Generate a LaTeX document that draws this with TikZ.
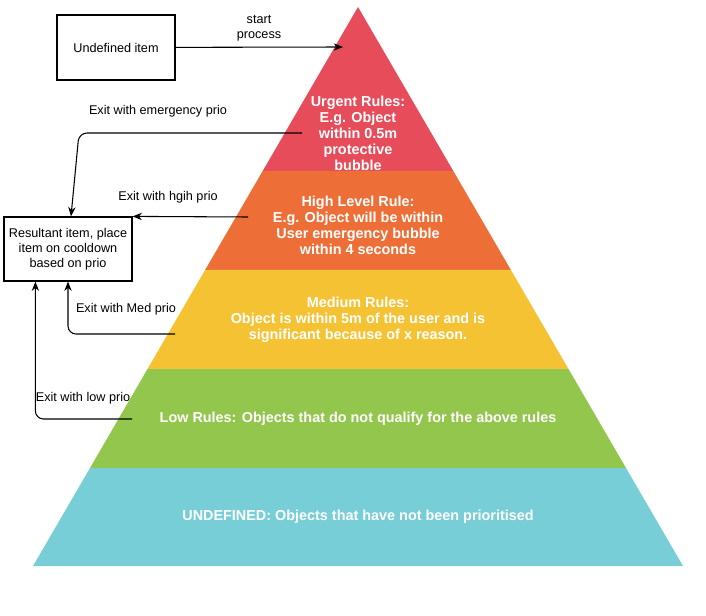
\documentclass[tikz,border=0pt]{standalone}
\usepackage{fontspec}
\setmainfont{Liberation Sans}
\usetikzlibrary{positioning,arrows.meta}
\definecolor{urgentred}{RGB}{230,76,90}
\definecolor{highorange}{RGB}{237,111,55}
\definecolor{medyellow}{RGB}{244,194,51}
\definecolor{lowgreen}{RGB}{146,198,76}
\definecolor{undefcyan}{RGB}{120,206,215}
\begin{document}
\begin{tikzpicture}[x=0.75pt,y=-0.75pt,
    layertext/.style={text=white, font=\bfseries\fontsize{10.8}{12}\selectfont, align=center},
    itembox/.style={draw, line width=0.9pt, align=center, font=\fontsize{9.5}{11.2}\selectfont},
    lbl/.style={align=center, font=\fontsize{9.5}{11.2}\selectfont},
    link/.style={-{Stealth[length=7pt,width=5.5pt]}, line width=0.8pt, rounded corners=6pt}]
    \useasboundingbox (0,0) rectangle (706,616);

    %pyramid layers
    \fill[urgentred] (358,7) -- (453.3,171) -- (262.7,171) -- cycle;
    \fill[highorange] (262.7,171) -- (453.3,171) -- (510.9,270) -- (205.1,270) -- cycle;
    \fill[medyellow] (205.1,270) -- (510.9,270) -- (568.5,369) -- (147.5,369) -- cycle;
    \fill[lowgreen] (147.5,369) -- (568.5,369) -- (626,468) -- (90,468) -- cycle;
    \fill[undefcyan] (90,468) -- (626,468) -- (683,566) -- (33,566) -- cycle;

    %layer texts
    \node[layertext] (urgent) at (358,133) {Urgent Rules:\\E.g. Object\\within 0.5m\\protective\\bubble};
    \node[layertext] (high) at (358,225) {High Level Rule:\\E.g. Object will be within\\User emergency bubble\\within 4 seconds};
    \node[layertext] (medium) at (358,320) {Medium Rules:\\Object is within 5m of the user and is\\significant because of x reason.};
    \node[layertext] (low) at (358,419) {Low Rules: Objects that do not qualify for the above rules};
    \node[layertext] (undef) at (358,517) {UNDEFINED: Objects that have not been prioritised};

    %boxes
    \node[itembox, minimum width=88.5pt, minimum height=48.75pt] (item) at (116,47.5) {Undefined item};
    \node[itembox, minimum width=96pt, minimum height=48pt] (result) at (68,249) {Resultant item, place\\item on cooldown\\based on prio};

    %connector ends
    \coordinate (apexIn) at (343,47);
    \coordinate (urgentOut) at (302,133);
    \coordinate (highOut) at (248,217);
    \coordinate (mediumOut) at (175,334);
    \coordinate (lowOut) at (132,419);

    %connectors
    \draw[link] (item) -- (apexIn);
    \draw[link] (urgentOut) -- (79,133) -- ([xshift=2.25pt]result.north);
    \draw[link] (highOut) -- (result.north east);
    \draw[link] (mediumOut) -| (result.south);
    \draw[link] (lowOut) -| ([xshift=24pt]result.south west);

    %labels
    \node[lbl] (startlbl) at (259,28) {start\\process};
    \node[lbl] (urgentlbl) at (158,111) {Exit with emergency prio};
    \node[lbl] (highlbl) at (168,197) {Exit with hgih prio};
    \node[lbl] (mediumlbl) at (126,309) {Exit with Med prio};
    \node[lbl] (lowlbl) at (83,398) {Exit with low prio};
\end{tikzpicture}
\end{document}
